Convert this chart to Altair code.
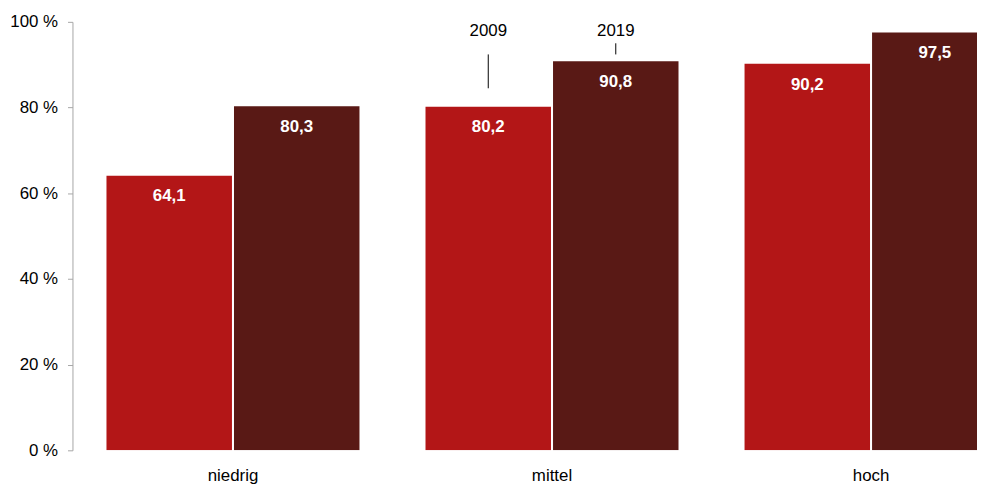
import altair as alt
import pandas as pd

categories = ["niedrig", "mittel", "hoch"]
years = ["2009", "2019"]
values_2009 = [64.1, 80.2, 90.2]
values_2019 = [80.3, 90.8, 97.5]
labels_2009 = ["64,1", "80,2", "90,2"]
labels_2019 = ["80,3", "90,8", "97,5"]

# legend-like annotations above the "mittel" group
ann_cat = ["mittel", "mittel"]
ann_year = ["2009", "2019"]
ann_text_y = [97.9, 97.9]
ann_line_top = [92.4, 95.0]
ann_line_bottom = [84.5, 92.4]

rows = []
for i, c in enumerate(categories):
    rows.append({"cat": c, "year": "2009", "value": values_2009[i], "label": labels_2009[i]})
    rows.append({"cat": c, "year": "2019", "value": values_2019[i], "label": labels_2019[i]})
df = pd.DataFrame(rows)

ann = pd.DataFrame({"cat": ann_cat, "year": ann_year, "ty": ann_text_y,
                    "top": ann_line_top, "bottom": ann_line_bottom})

FONT = "Liberation Sans"

xscale = alt.Scale(domain=categories, range=[0, 967], paddingInner=0.207, paddingOuter=0.1066)
xoff = alt.XOffset("year:N", scale=alt.Scale(domain=years, paddingInner=0.016, paddingOuter=0))
yscale = alt.Scale(domain=[0, 100], nice=False)

base = alt.Chart(df)

bars = base.mark_bar(clip=True).encode(
    x=alt.X("cat:N", scale=xscale, sort=categories,
            axis=alt.Axis(title=None, domain=False, ticks=False, labelAngle=0,
                          labelFontSize=17, labelFont=FONT, labelColor="#000000",
                          labelPadding=17)),
    xOffset=xoff,
    y=alt.Y("value:Q", scale=yscale,
            axis=alt.Axis(title=None, values=[0, 20, 40, 60, 80, 100], grid=False,
                          domainColor="#a6a6a6", tickColor="#a6a6a6", tickSize=5,
                          labelExpr="datum.value + ' %'", labelFontSize=17,
                          labelFont=FONT, labelColor="#000000", labelPadding=10)),
    color=alt.Color("year:N", scale=alt.Scale(domain=years, range=["#b31617", "#591915"]),
                    legend=None),
)

texts = base.mark_text(clip=True, color="white", fontWeight="bold", fontSize=17,
                       font=FONT, baseline="middle", dy=21).encode(
    x=alt.X("cat:N", scale=xscale, sort=categories),
    xOffset=xoff,
    y=alt.Y("value:Q", scale=yscale),
    text="label:N",
)

ann_text = alt.Chart(ann).mark_text(fontSize=17, font=FONT, color="#000000",
                                    baseline="middle").encode(
    x=alt.X("cat:N", scale=xscale, sort=categories),
    xOffset=xoff,
    y=alt.Y("ty:Q", scale=yscale),
    text="year:N",
)

ann_rule = alt.Chart(ann).mark_rule(color="#000000", strokeWidth=1).encode(
    x=alt.X("cat:N", scale=xscale, sort=categories),
    xOffset=xoff,
    y=alt.Y("top:Q", scale=yscale),
    y2="bottom:Q",
)

chart = alt.layer(bars, texts, ann_rule, ann_text).properties(
    width=912, height=432,
    autosize=alt.AutoSizeParams(type="none"),
    padding={"left": 65, "top": 12, "right": 0, "bottom": 35},
).configure_view(stroke=None, fill="white")

chart.save("out.html", embed_options={"renderer": "svg", "actions": False})
